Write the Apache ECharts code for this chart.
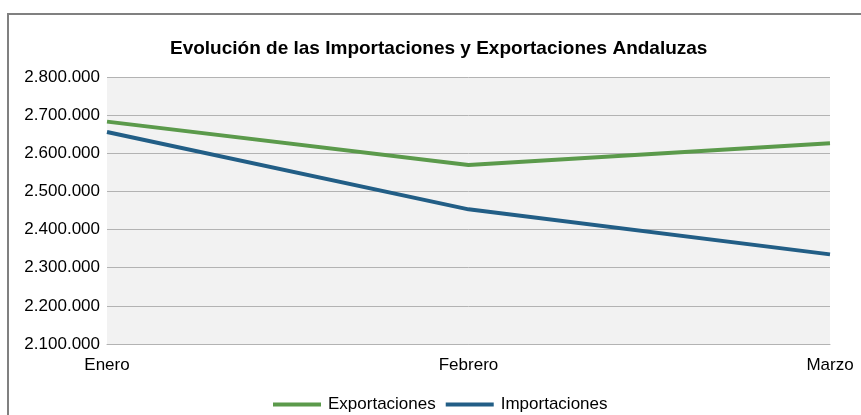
<!DOCTYPE html>
<html>
<head>
<meta charset="utf-8">
<script src="https://cdn.jsdelivr.net/npm/echarts@6/dist/echarts.min.js"></script>
<style>
html, body { margin: 0; padding: 0; background: #fff; }
#chart { width: 861px; height: 415px; }
</style>
</head>
<body>
<div id="chart"></div>
<script>
var meses = ['Enero', 'Febrero', 'Marzo'];
var exportaciones = [2683000, 2569000, 2626000];
var importaciones = [2656000, 2453000, 2335000];

function fmtMiles(v) {
    return String(v).replace(/\B(?=(\d{3})+(?!\d))/g, '.');
}

var myChart = echarts.init(document.getElementById('chart'));
var option = {
    animation: false,
    title: {
        text: 'Evolución de las Importaciones y Exportaciones Andaluzas',
        left: 165,
        top: 34,
        textStyle: {
            color: '#000',
            fontSize: 19,
            fontWeight: 'bold',
            fontFamily: 'Liberation Sans, Arial, sans-serif'
        }
    },
    graphic: [{
        type: 'rect',
        shape: { x: 8, y: 14, width: 900, height: 450 },
        style: { fill: 'none', stroke: '#808080', lineWidth: 2 },
        silent: true
    }],
    legend: {
        bottom: -3,
        left: 268,
        icon: 'rect',
        itemWidth: 48,
        itemHeight: 4,
        itemGap: 10,
        textStyle: {
            color: '#000',
            fontSize: 17,
            padding: [0, 0, 0, 2],
            fontFamily: 'Liberation Sans, Arial, sans-serif'
        },
        data: ['Exportaciones', 'Importaciones']
    },
    grid: {
        left: 107,
        right: 31,
        top: 77,
        bottom: 71,
        show: true,
        backgroundColor: '#f2f2f2',
        borderWidth: 0
    },
    xAxis: {
        type: 'category',
        data: meses,
        boundaryGap: false,
        axisLine: { show: true, lineStyle: { color: '#b3b3b3', width: 1 } },
        axisTick: { show: false },
        axisLabel: {
            color: '#000',
            fontSize: 17,
            margin: 13,
            fontFamily: 'Liberation Sans, Arial, sans-serif'
        }
    },
    yAxis: {
        type: 'value',
        min: 2100000,
        max: 2800000,
        interval: 100000,
        axisLine: { show: false },
        axisTick: { show: false },
        splitLine: { lineStyle: { color: '#b3b3b3', width: 1 } },
        axisLabel: {
            color: '#000',
            fontSize: 17,
            margin: 7,
            fontFamily: 'Liberation Sans, Arial, sans-serif',
            formatter: fmtMiles
        }
    },
    series: [{
        name: 'Exportaciones',
        type: 'line',
        data: exportaciones,
        symbol: 'none',
        color: '#5b9a4b',
        lineStyle: { width: 4, color: '#5b9a4b' }
    }, {
        name: 'Importaciones',
        type: 'line',
        data: importaciones,
        symbol: 'none',
        color: '#225e86',
        lineStyle: { width: 4, color: '#225e86' }
    }]
};
myChart.setOption(option);
</script>
</body>
</html>
